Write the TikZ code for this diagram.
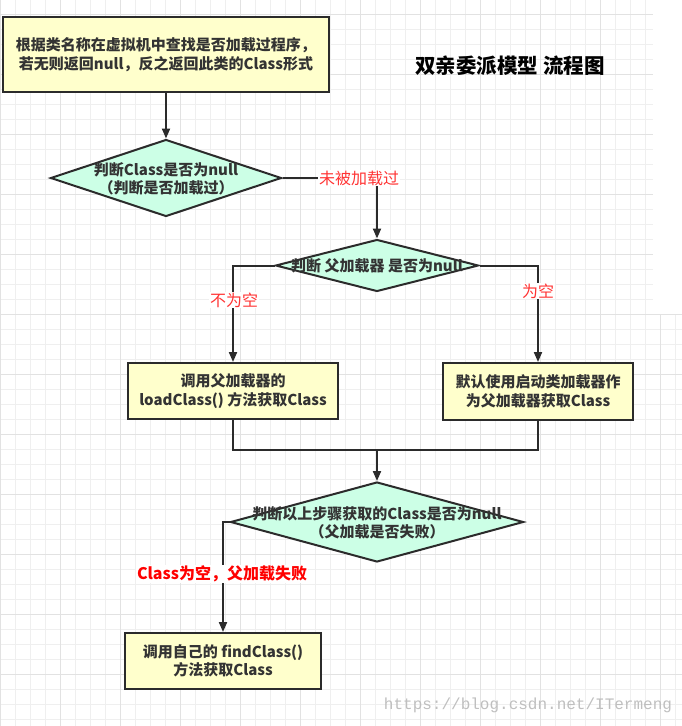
\documentclass[tikz,border=0pt]{standalone}
\usepackage{fontspec}
\setmainfont{Noto Sans CJK SC}
\newfontfamily\wmfont{Liberation Mono}
\usetikzlibrary{shapes.geometric,arrows.meta}
\definecolor{boxfill}{HTML}{FFFFCC}
\definecolor{diafill}{HTML}{CCFFE6}
\definecolor{edgec}{HTML}{2B2B2B}
\definecolor{txtc}{HTML}{333333}
\definecolor{gridminor}{HTML}{EFEFEF}
\definecolor{gridmajor}{HTML}{E2E2E2}
\definecolor{lblred}{HTML}{FF3333}
\definecolor{lblred2}{HTML}{FF0000}
\begin{document}
\begin{tikzpicture}[x=1pt,y=-1pt,
  procbox/.style={draw=edgec,line width=2pt,fill=boxfill,inner sep=0pt,
    text=txtc,font=\fontsize{15}{18.5}\selectfont\bfseries,align=center},
  decision/.style={diamond,draw=edgec,line width=2pt,fill=diafill,inner sep=0pt},
  body/.style={text=txtc,font=\fontsize{15}{18.5}\selectfont\bfseries,align=center,inner sep=0pt},
  conn/.style={draw=edgec,line width=2pt},
  arr/.style={conn,-{Triangle[length=10pt,width=8pt]}},
  lbl/.style={fill=white,inner sep=1pt,text=lblred,font=\fontsize{16}{18}\selectfont},
  lblb/.style={fill=white,inner sep=1pt,text=lblred2,font=\fontsize{16}{18}\selectfont\bfseries}]
\useasboundingbox (0,0) rectangle (682,726);
\fill[white] (0,0) rectangle (682,726);
% grid
\foreach \i in {0,...,45} \draw[gridminor,line width=1pt] (15*\i,0) -- (15*\i,726);
\foreach \j in {-1,...,48} \draw[gridminor,line width=1pt] (0,14+15*\j) -- (682,14+15*\j);
\foreach \i in {0,...,11} \draw[gridmajor,line width=1pt] (60*\i,0) -- (60*\i,726);
\foreach \j in {0,...,12} \draw[gridmajor,line width=1pt] (0,14+60*\j) -- (682,14+60*\j);
\fill[white] (652.5,0) rectangle (682,313.5);

% title
\node[font=\fontsize{20.5}{22}\selectfont\bfseries,text=black] (title) at (510,66) {双亲委派模型 流程图};

% nodes
\node[procbox,minimum width=326pt,minimum height=75pt] (b1) at (166,54.5)
  {根据类名称在虚拟机中查找是否加载过程序，\\若无则返回null，反之返回此类的Class形式};
\node[decision,minimum width=231pt,minimum height=77pt] (d1) at (166,178) {};
\node[body] (t1) at (166,179) {判断Class是否为null\\（判断是否加载过）};
\node[decision,minimum width=203pt,minimum height=52pt] (d2) at (377,265.5) {};
\node[body] (t2) at (377,265.5) {判断 父加载器 是否为null};
\node[procbox,minimum width=210pt,minimum height=56pt] (b2) at (233,391)
  {调用父加载器的\\loadClass() 方法获取Class};
\node[procbox,minimum width=190pt,minimum height=57pt] (b3) at (538,391.5)
  {默认使用启动类加载器作\\为父加载器获取Class};
\node[decision,minimum width=293pt,minimum height=80pt] (d3) at (377,522) {};
\node[body] (t3) at (377,523) {判断以上步骤获取的Class是否为null\\（父加载是否失败）};
\node[procbox,minimum width=196pt,minimum height=56pt] (b4) at (223,661)
  {调用自己的 findClass()\\方法获取Class};
\coordinate (m) at (377,450);

% connectors
\draw[arr] (b1.south) -- (d1.north);
\draw[arr] (d1.east) -| (d2.north);
\draw[arr] (d2.west) -| (b2.north);
\draw[arr] (d2.east) -| (b3.north);
\draw[conn] (b2.south) |- (m);
\draw[conn] (b3.south) |- (m);
\draw[arr] (m) -- (d3.north);
\draw[arr] (d3.west) -| (b4.north);

% labels
\node[lbl] (l1) at (359,178) {未被加载过};
\node[lbl] (l2) at (234,300) {不为空};
\node[lbl] (l3) at (538,291) {为空};
\node[lblb] (l4) at (222,574) {Class为空，父加载失败};

% watermark
\node[text=black!25,font=\wmfont\fontsize{16}{16}\selectfont] (wm) at (528,705) {https://blog.csdn.net/ITermeng};
\end{tikzpicture}
\end{document}
